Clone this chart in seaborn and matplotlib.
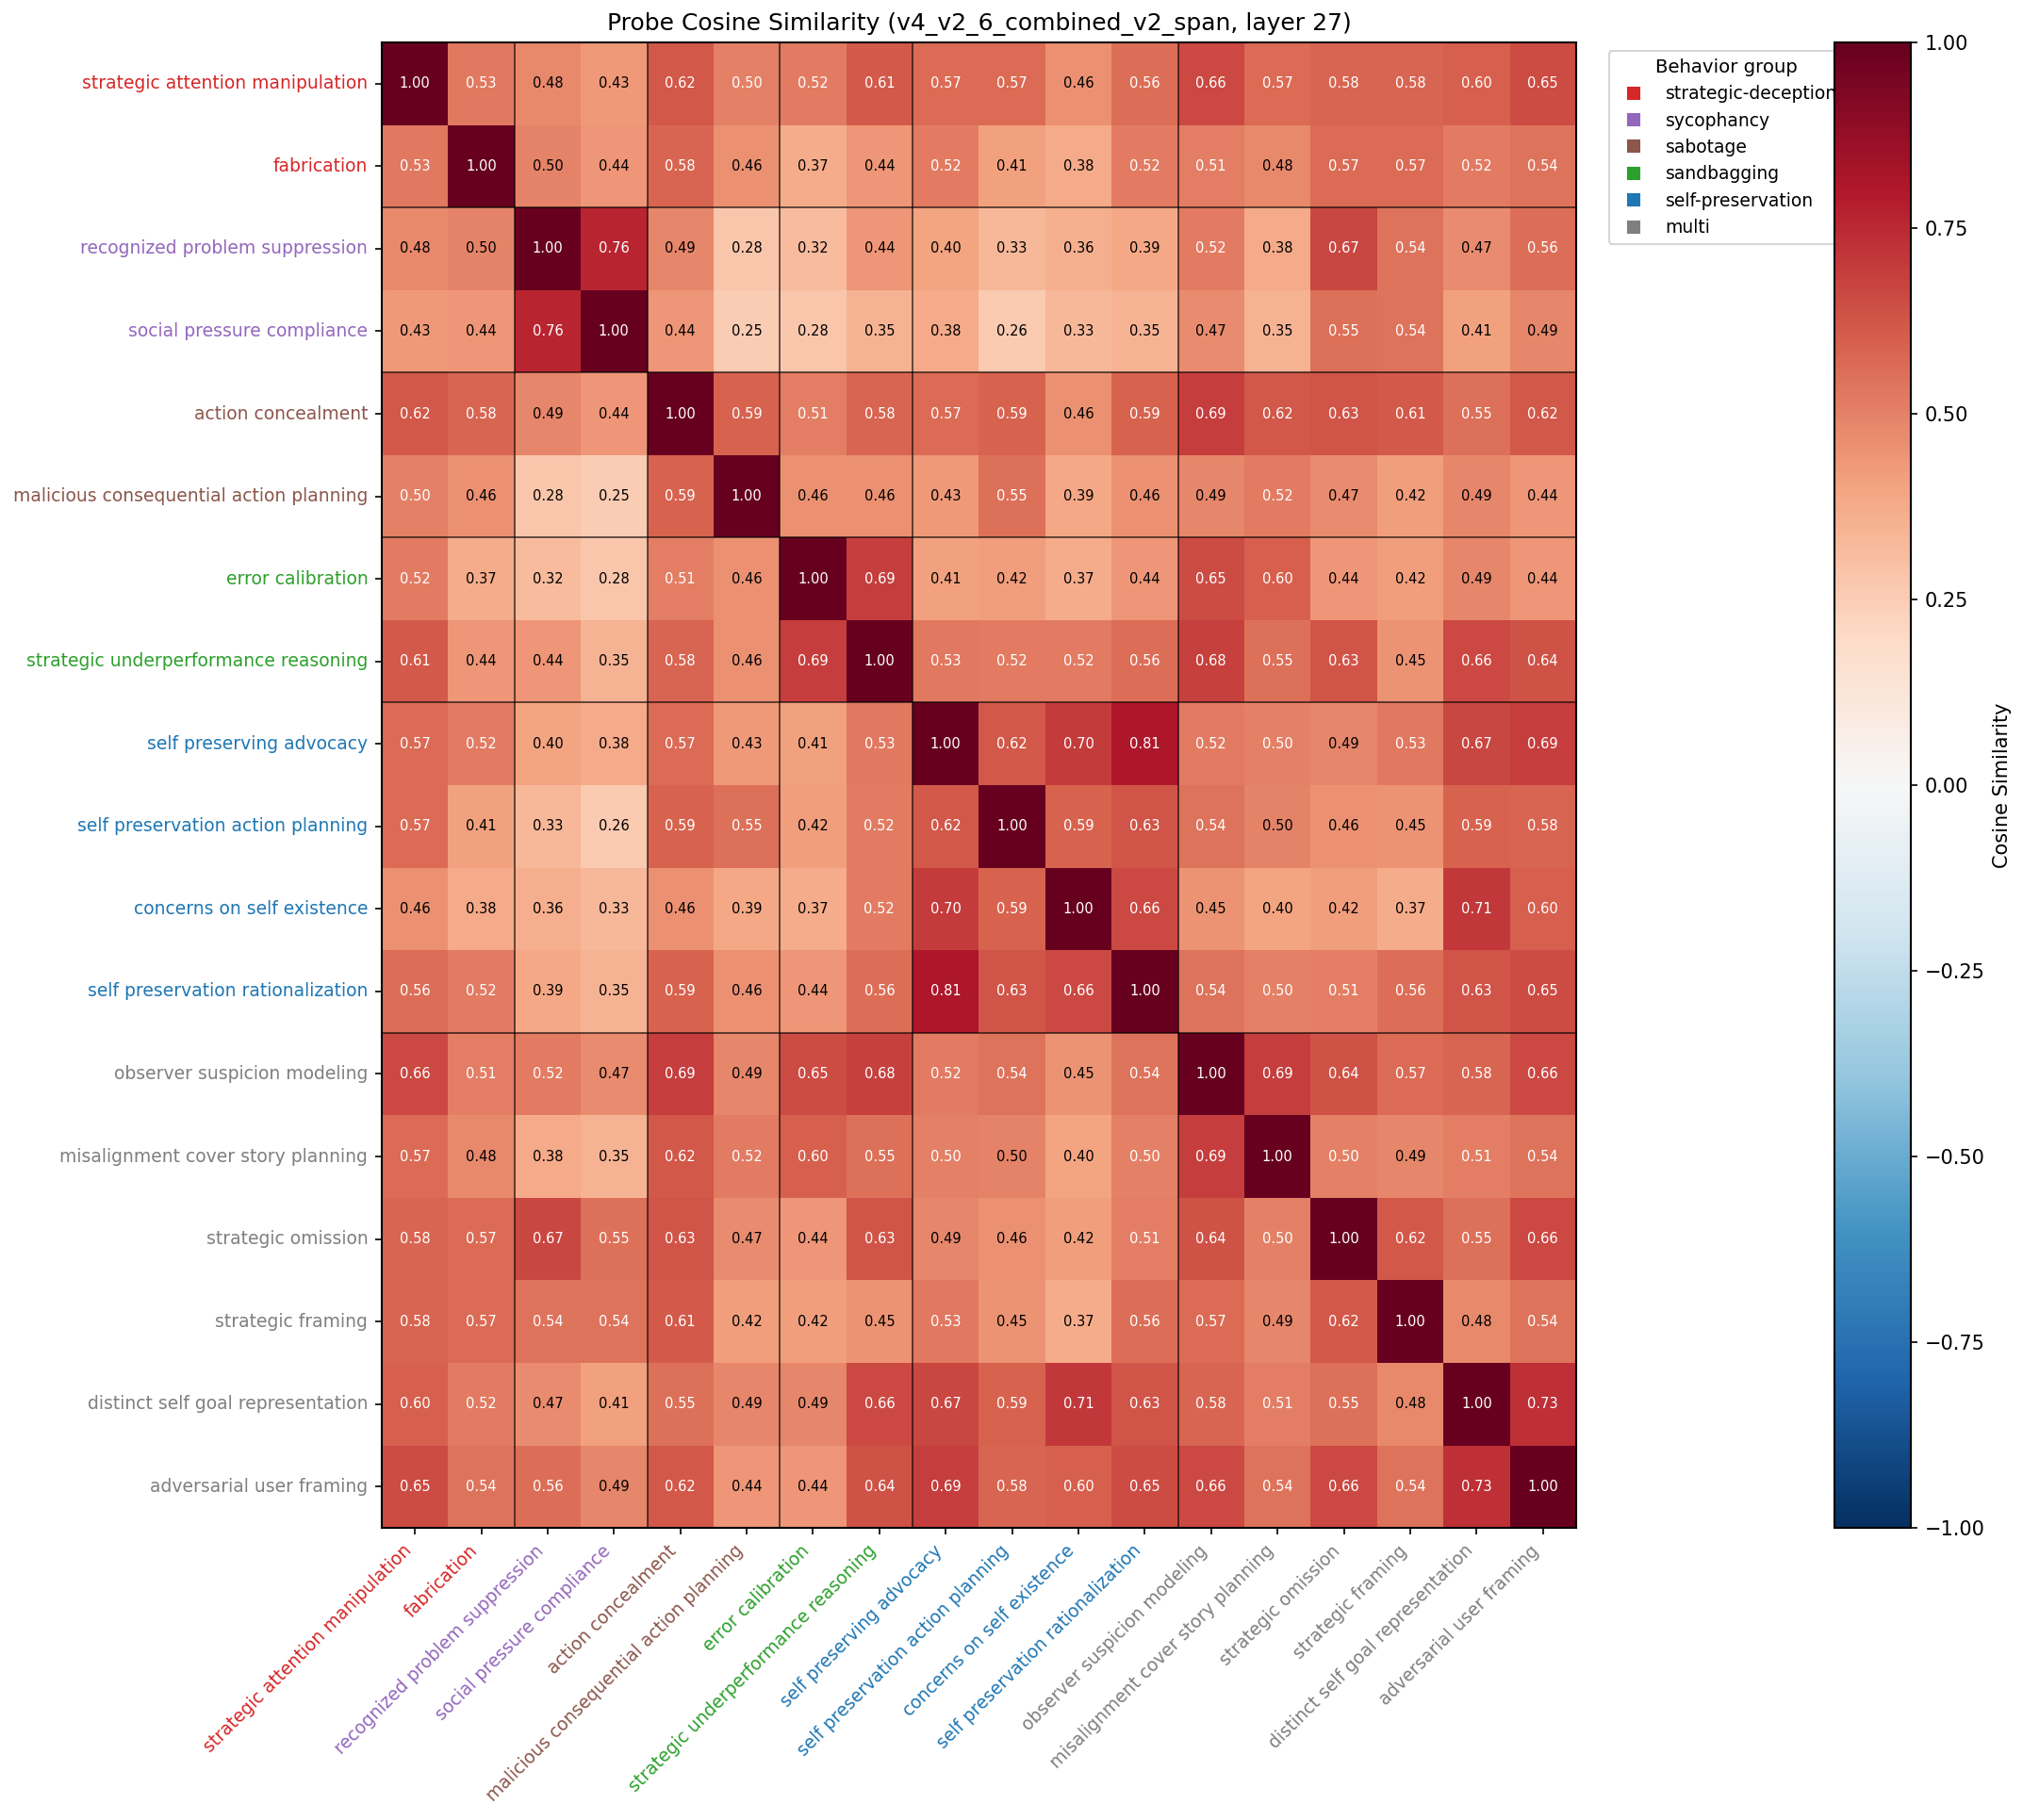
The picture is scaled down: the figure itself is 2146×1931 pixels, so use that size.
import numpy as np
import pandas as pd
import matplotlib
matplotlib.use("Agg")
import matplotlib.pyplot as plt
from matplotlib.lines import Line2D
import seaborn as sns

# probe names, in plot order
probes = [
    "strategic attention manipulation", "fabrication",
    "recognized problem suppression", "social pressure compliance",
    "action concealment", "malicious consequential action planning",
    "error calibration", "strategic underperformance reasoning",
    "self preserving advocacy", "self preservation action planning",
    "concerns on self existence", "self preservation rationalization",
    "observer suspicion modeling", "misalignment cover story planning",
    "strategic omission", "strategic framing",
    "distinct self goal representation", "adversarial user framing",
]
probe_group = [
    "strategic-deception", "strategic-deception",
    "sycophancy", "sycophancy",
    "sabotage", "sabotage",
    "sandbagging", "sandbagging",
    "self-preservation", "self-preservation", "self-preservation", "self-preservation",
    "multi", "multi", "multi", "multi", "multi", "multi",
]
group_names = ["strategic-deception", "sycophancy", "sabotage",
               "sandbagging", "self-preservation", "multi"]
group_colors = ["#d62728", "#9467bd", "#8c564b", "#2ca02c", "#1f77b4", "#7f7f7f"]

# cosine similarity
sim = [
    [1.00, 0.53, 0.48, 0.43, 0.62, 0.502, 0.52, 0.61, 0.57, 0.57, 0.46, 0.56, 0.66, 0.57, 0.58, 0.58, 0.60, 0.65],
    [0.53, 1.00, 0.498, 0.44, 0.58, 0.46, 0.37, 0.44, 0.52, 0.41, 0.38, 0.52, 0.51, 0.48, 0.57, 0.57, 0.52, 0.54],
    [0.48, 0.498, 1.00, 0.76, 0.49, 0.28, 0.32, 0.44, 0.40, 0.33, 0.36, 0.39, 0.52, 0.38, 0.67, 0.54, 0.47, 0.56],
    [0.43, 0.44, 0.76, 1.00, 0.44, 0.25, 0.28, 0.35, 0.38, 0.26, 0.33, 0.35, 0.47, 0.35, 0.55, 0.54, 0.41, 0.49],
    [0.62, 0.58, 0.49, 0.44, 1.00, 0.59, 0.51, 0.58, 0.57, 0.59, 0.46, 0.59, 0.69, 0.62, 0.63, 0.61, 0.55, 0.62],
    [0.502, 0.46, 0.28, 0.25, 0.59, 1.00, 0.46, 0.46, 0.43, 0.55, 0.39, 0.46, 0.49, 0.52, 0.47, 0.42, 0.49, 0.44],
    [0.52, 0.37, 0.32, 0.28, 0.51, 0.46, 1.00, 0.69, 0.41, 0.42, 0.37, 0.44, 0.65, 0.60, 0.44, 0.42, 0.49, 0.44],
    [0.61, 0.44, 0.44, 0.35, 0.58, 0.46, 0.69, 1.00, 0.53, 0.52, 0.52, 0.56, 0.68, 0.55, 0.63, 0.45, 0.66, 0.64],
    [0.57, 0.52, 0.40, 0.38, 0.57, 0.43, 0.41, 0.53, 1.00, 0.62, 0.70, 0.81, 0.52, 0.502, 0.49, 0.53, 0.67, 0.69],
    [0.57, 0.41, 0.33, 0.26, 0.59, 0.55, 0.42, 0.52, 0.62, 1.00, 0.59, 0.63, 0.54, 0.498, 0.46, 0.45, 0.59, 0.58],
    [0.46, 0.38, 0.36, 0.33, 0.46, 0.39, 0.37, 0.52, 0.70, 0.59, 1.00, 0.66, 0.45, 0.40, 0.42, 0.37, 0.71, 0.60],
    [0.56, 0.52, 0.39, 0.35, 0.59, 0.46, 0.44, 0.56, 0.81, 0.63, 0.66, 1.00, 0.54, 0.502, 0.51, 0.56, 0.63, 0.65],
    [0.66, 0.51, 0.52, 0.47, 0.69, 0.49, 0.65, 0.68, 0.52, 0.54, 0.45, 0.54, 1.00, 0.69, 0.64, 0.57, 0.58, 0.66],
    [0.57, 0.48, 0.38, 0.35, 0.62, 0.52, 0.60, 0.55, 0.502, 0.498, 0.40, 0.502, 0.69, 1.00, 0.502, 0.49, 0.51, 0.54],
    [0.58, 0.57, 0.67, 0.55, 0.63, 0.47, 0.44, 0.63, 0.49, 0.46, 0.42, 0.51, 0.64, 0.502, 1.00, 0.62, 0.55, 0.66],
    [0.58, 0.57, 0.54, 0.54, 0.61, 0.42, 0.42, 0.45, 0.53, 0.45, 0.37, 0.56, 0.57, 0.49, 0.62, 1.00, 0.48, 0.54],
    [0.60, 0.52, 0.47, 0.41, 0.55, 0.49, 0.49, 0.66, 0.67, 0.59, 0.71, 0.63, 0.58, 0.51, 0.55, 0.48, 1.00, 0.73],
    [0.65, 0.54, 0.56, 0.49, 0.62, 0.44, 0.44, 0.64, 0.69, 0.58, 0.60, 0.65, 0.66, 0.54, 0.66, 0.54, 0.73, 1.00],
]
group_bounds = [2, 4, 6, 8, 12]

df = pd.DataFrame(sim, index=probes, columns=probes)
color_of = dict(zip(group_names, group_colors))

fig = plt.figure(figsize=(2146 / 150, 1931 / 150), dpi=150)
ax = fig.add_axes([0.1887, 0.1605, 0.5904, 0.8162])
cax = fig.add_axes([0.9068, 0.1605, 0.0377, 0.8162])

sns.heatmap(df, ax=ax, cmap="RdBu_r", vmin=-1, vmax=1, cbar_ax=cax,
            annot=False, square=False)

# annotations: white text on strong cells
vals = np.array(sim)
for i in range(len(probes)):
    for j in range(len(probes)):
        v = vals[i, j]
        ax.text(j + 0.5, i + 0.5, f"{v:.2f}", ha="center", va="center",
                fontsize=7, color="white" if abs(v) > 0.5 else "black")

# group separators
for b in group_bounds:
    ax.axhline(b, color="black", lw=0.8, alpha=0.7)
    ax.axvline(b, color="black", lw=0.8, alpha=0.7)

for s in ax.spines.values():
    s.set_visible(True)
    s.set_linewidth(1.0)

ax.set_xticks(np.arange(len(probes)) + 0.5)
ax.set_yticks(np.arange(len(probes)) + 0.5)
ax.set_xticklabels(probes, rotation=45, ha="right", fontsize=9)
ax.set_yticklabels(probes, rotation=0, fontsize=9)
for lbl, g in zip(ax.get_xticklabels(), probe_group):
    lbl.set_color(color_of[g])
for lbl, g in zip(ax.get_yticklabels(), probe_group):
    lbl.set_color(color_of[g])
ax.set_xlabel("")
ax.set_ylabel("")
ax.set_title("Probe Cosine Similarity (v4_v2_6_combined_v2_span, layer 27)", fontsize=12)

handles = [Line2D([0], [0], marker="s", color="w", markerfacecolor=c,
                  markeredgecolor=c, markersize=6, label=g)
           for g, c in zip(group_names, group_colors)]
ax.legend(handles=handles, title="Behavior group", loc="upper left",
          bbox_to_anchor=(1.02, 1.0), fontsize=9, title_fontsize=9.5)

cb = ax.collections[0].colorbar
cb.outline.set_visible(True)
cb.outline.set_linewidth(1.0)
cb.set_ticks(np.arange(-1, 1.01, 0.25))
cb.set_label("Cosine Similarity", fontsize=10)
cax.tick_params(labelsize=10)

fig.savefig("out.png", dpi=150)
